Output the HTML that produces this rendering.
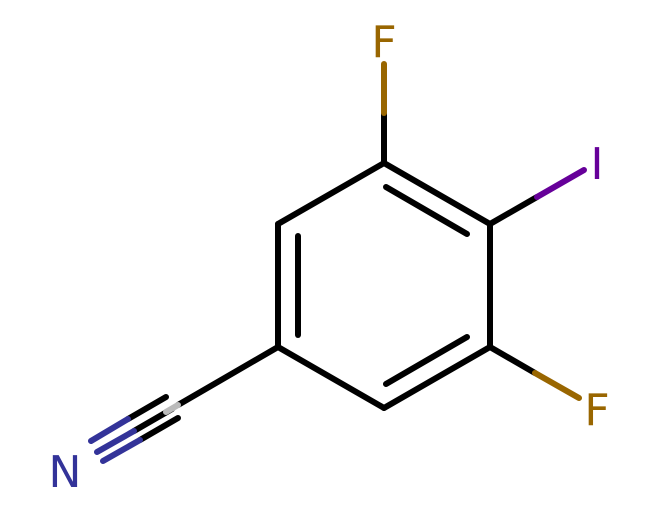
<!DOCTYPE html>
<html><head><meta charset="utf-8"><style>html,body{margin:0;padding:0;background:#fff}</style></head><body>
<svg width="663" height="510" viewBox="0 0 663 510" xmlns="http://www.w3.org/2000/svg">
<g stroke-width="6" stroke-linecap="round" fill="none">
<g stroke="#000">
<line x1="384" y1="163" x2="490" y2="224"/>
<line x1="490" y1="224" x2="490" y2="347"/>
<line x1="490" y1="347" x2="384" y2="408"/>
<line x1="384" y1="408" x2="278" y2="347"/>
<line x1="278" y1="347" x2="278" y2="224"/>
<line x1="278" y1="224" x2="384" y2="163"/>
<line x1="386" y1="187" x2="467" y2="234"/>
<line x1="467" y1="337" x2="386" y2="384"/>
<line x1="298" y1="335" x2="298" y2="236"/>
<line x1="384" y1="163" x2="384" y2="113"/>
<line x1="490" y1="224" x2="537" y2="197"/>
<line x1="490" y1="347" x2="535" y2="373"/>
<line x1="278" y1="347" x2="178" y2="405"/>
<line x1="166" y1="397" x2="128" y2="419"/>
<line x1="172" y1="409" x2="134" y2="431"/>
<line x1="178" y1="418" x2="140" y2="440"/>
</g>
<line x1="178" y1="405" x2="166" y2="412" stroke="#bbb"/>
<g stroke="#996600">
<line x1="384" y1="113" x2="384" y2="64"/>
<line x1="535" y1="373" x2="579" y2="398"/>
</g>
<line x1="537" y1="197" x2="584" y2="170" stroke="#660099"/>
<g stroke="#333399">
<line x1="128" y1="419" x2="91" y2="441"/>
<line x1="134" y1="431" x2="97" y2="452"/>
<line x1="140" y1="440" x2="103" y2="461"/>
</g>
</g>
<g font-family="'DejaVu Sans','Liberation Sans',sans-serif" font-size="44">
<text x="384" y="57" fill="#996600" text-anchor="middle">F</text>
<text x="597" y="179" fill="#660099" text-anchor="middle">I</text>
<text x="597" y="425" fill="#996600" text-anchor="middle">F</text>
<text x="65" y="487" fill="#333399" text-anchor="middle">N</text>
</g>
</svg>
</body></html>
